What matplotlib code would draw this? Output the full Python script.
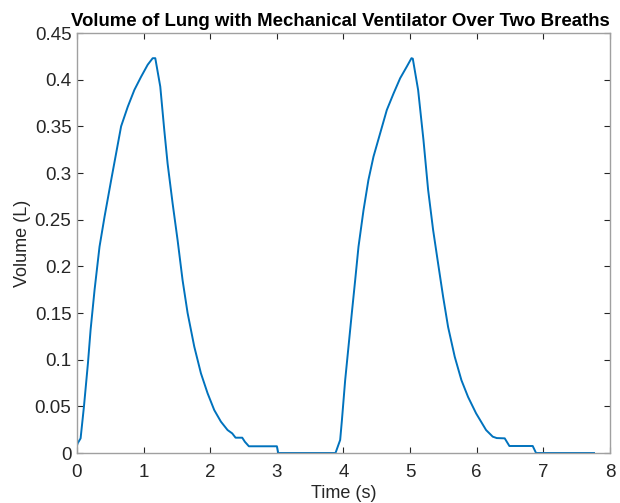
import matplotlib
matplotlib.use("Agg")
import matplotlib.pyplot as plt

time_s = [0.0, 0.01, 0.054, 0.104, 0.164, 0.204, 0.264, 0.338, 0.413, 0.513, 0.587, 0.662,
          0.762, 0.861, 0.961, 1.061, 1.136, 1.175, 1.25, 1.31, 1.36, 1.435, 1.51, 1.585,
          1.66, 1.76, 1.86, 1.96, 2.06, 2.16, 2.26, 2.33, 2.38, 2.48, 2.52, 2.58, 3.0, 3.02,
          3.88, 3.91, 3.95, 3.976, 4.025, 4.075, 4.125, 4.175, 4.225, 4.30, 4.374, 4.45, 4.55,
          4.65, 4.75, 4.85, 4.95, 5.02, 5.04, 5.12, 5.20, 5.27, 5.345, 5.42, 5.495, 5.57,
          5.67, 5.77, 5.87, 5.99, 6.14, 6.24, 6.30, 6.42, 6.49, 6.84, 6.89, 7.76]
volume_l = [0.008, 0.0104, 0.0157, 0.0496, 0.096, 0.132, 0.175, 0.221, 0.253, 0.2925, 0.321,
            0.350, 0.371, 0.389, 0.403, 0.416, 0.423, 0.423, 0.3925, 0.346, 0.310, 0.2675,
            0.228, 0.185, 0.150, 0.114, 0.0854, 0.064, 0.046, 0.0336, 0.0246, 0.021, 0.0164,
            0.0164, 0.0120, 0.0072, 0.0072, 0.0, 0.0, 0.006, 0.014, 0.035, 0.078, 0.114, 0.150,
            0.185, 0.221, 0.260, 0.2925, 0.3175, 0.3425, 0.3675, 0.385, 0.4015, 0.414, 0.423,
            0.4225, 0.389, 0.3355, 0.282, 0.239, 0.203, 0.1675, 0.135, 0.103, 0.078, 0.060,
            0.0425, 0.0246, 0.0175, 0.0160, 0.0157, 0.0075, 0.0075, 0.0, 0.0]

x_ticks = [0, 1, 2, 3, 4, 5, 6, 7, 8]
y_ticks = [0, 0.05, 0.1, 0.15, 0.2, 0.25, 0.3, 0.35, 0.4, 0.45]
y_tick_labels = ["0", "0.05", "0.1", "0.15", "0.2", "0.25", "0.3", "0.35", "0.4", "0.45"]

plt.rcParams['font.family'] = ['Liberation Sans', 'DejaVu Sans']

fig = plt.figure(figsize=(6.2, 5.03), dpi=100)
ax = fig.add_axes([77/620, 1 - 453/503, (610 - 77)/620, (453 - 33)/503])
ax.plot(time_s, volume_l, color='#0072BD', linewidth=1.4)
ax.set_xlim(0, 8)
ax.set_ylim(0, 0.45)
ax.set_xticks(x_ticks)
ax.set_yticks(y_ticks)
ax.set_yticklabels(y_tick_labels)
ax.tick_params(direction='in', top=True, right=True, length=4, width=0.8,
               color='#262626', labelsize=13.5, labelcolor='#262626')
ax.tick_params(axis='x', pad=8)
ax.tick_params(axis='y', pad=4)
for s in ax.spines.values():
    s.set_color('#a0a0a0')
    s.set_linewidth(1.0)
ax.set_xlabel('Time (s)', fontsize=13, color='#262626', labelpad=3)
ax.set_ylabel('Volume (L)', fontsize=13, color='#262626', labelpad=3)
fig.text(340/620, 1 - 26/503, 'Volume of Lung with Mechanical Ventilator Over Two Breaths',
         fontsize=13.4, fontweight='bold', color='black', ha='center', va='baseline')
fig.savefig('out.png', dpi=100)
